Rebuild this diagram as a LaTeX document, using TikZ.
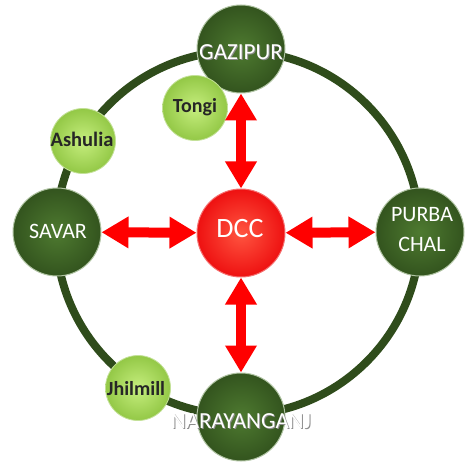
\documentclass[tikz,border=0pt]{standalone}
\usepackage{fontspec}
\setmainfont{Carlito}
\usetikzlibrary{arrows.meta}
\definecolor{ringgreen}{HTML}{2F4C1B}
\definecolor{dkin}{HTML}{4E7A30}
\definecolor{dkout}{HTML}{33541E}
\definecolor{ltin}{HTML}{C6EE7E}
\definecolor{ltout}{HTML}{93C846}
\definecolor{redin}{HTML}{FF5540}
\definecolor{redout}{HTML}{EE1111}
\definecolor{arrowred}{HTML}{FF0000}
\begin{document}
\begin{tikzpicture}[x=1pt,y=-1pt,
  city/.style={circle, minimum size=88pt, inner sep=0pt, shade, inner color=dkin, outer color=dkout, draw=white!55!dkin, line width=1pt},
  town/.style={circle, minimum size=65pt, inner sep=0pt, shade, inner color=ltin, outer color=ltout, draw=white!45!ltout, line width=0.8pt},
  hub/.style={circle, minimum size=88pt, inner sep=0pt, shade, inner color=redin, outer color=redout, draw=white!40!redout, line width=1pt},
  citytext/.style={text=white, font=\fontsize{23}{23}\selectfont},
  cityshadow/.style={text=black!45, font=\fontsize{23}{23}\selectfont},
  towntext/.style={text=black!85, font=\bfseries\fontsize{20}{20}\selectfont},
  link/.style={draw=arrowred, line width=10pt, {Triangle[width=30pt,length=27pt]}-{Triangle[width=30pt,length=27pt]}}
]
\useasboundingbox (0,0) rectangle (465,462);
\node[circle, draw=ringgreen, line width=8pt, minimum size=364pt, inner sep=0pt] (ring) at (238,233) {};
% outer cities
\node[city] (gaz) at (241,49) {};
\node[city] (sav) at (57,232) {};
\node[city] (pur) at (420,232) {};
\node[city] (nar) at (241,417) {};
\node[hub] (dcc) at (241,233) {};
% small towns
\node[town] (ash) at (83,141) {};
\node[town] (jhi) at (138,388) {};
\node[town] (ton) at (195,108) {};
% connectors
\draw[link] (gaz) -- (dcc);
\draw[link] (dcc) -- (nar);
\draw[link] (sav) -- (dcc);
\draw[link] (dcc) -- (pur);
% labels
\node[cityshadow, anchor=base] (gazs) at (242,61) {GAZIPUR};
\node[citytext, anchor=base] (gazl) at (241,60) {GAZIPUR};
\node[citytext, anchor=base, font=\fontsize{22}{22}\selectfont] (savl) at (58,238) {SAVAR};
\node[citytext, align=center, font=\fontsize{22}{30}\selectfont, inner sep=0pt] (purl) at (422,230) {PURBA\\CHAL};
\node[cityshadow, anchor=base] (nars) at (242,429) {NARAYANGANJ};
\node[citytext, anchor=base] (narl) at (241,428) {NARAYANGANJ};
\node[citytext, anchor=base, font=\fontsize{28}{28}\selectfont] (dccl) at (240,237) {DCC};
\node[towntext, anchor=base] (tonl) at (195,113) {Tongi};
\node[towntext, anchor=base, font=\bfseries\fontsize{20.5}{20.5}\selectfont] (ashl) at (82,147) {Ashulia};
\node[towntext, anchor=base] (jhil) at (136,395) {Jhilmill};
\end{tikzpicture}
\end{document}
